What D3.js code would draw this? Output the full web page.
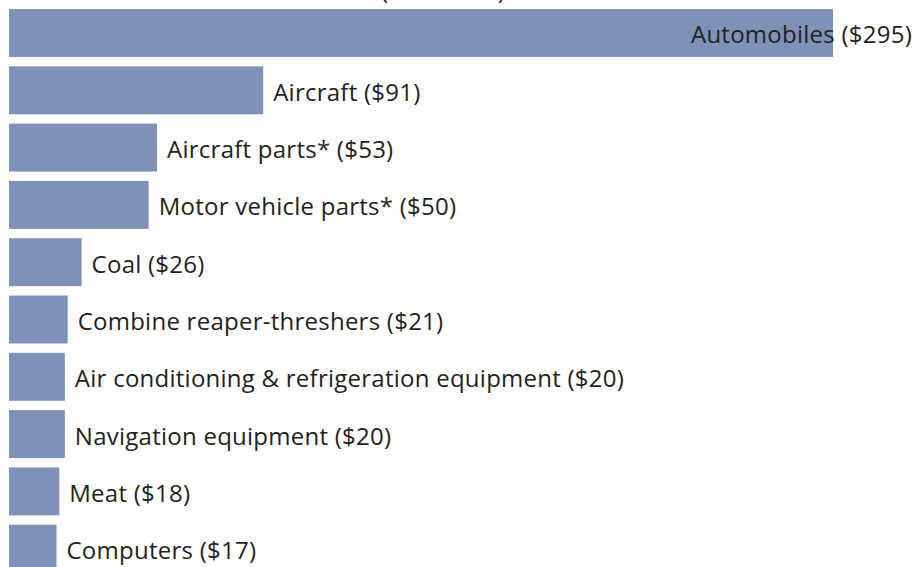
<!DOCTYPE html>
<html>
<head>
<meta charset="utf-8">
<script src="https://cdn.jsdelivr.net/npm/d3@7"></script>
<style>
  body { margin: 0; background: #fff; }
  svg { display: block; }
  text { font-family: "Open Sans", "Noto Sans", sans-serif; fill: #231f20; letter-spacing: 0.25px; }
</style>
</head>
<body>
<svg width="914" height="567"></svg>
<script>
var svg = d3.select("svg"),
    width = +svg.attr("width"),
    height = +svg.attr("height");

// data, billions of dollars
var categories = ["Automobiles", "Aircraft", "Aircraft parts*", "Motor vehicle parts*", "Coal",
    "Combine reaper-threshers", "Air conditioning & refrigeration equipment",
    "Navigation equipment", "Meat", "Computers"];
var values = [295, 91, 53, 50, 26, 21, 20, 20, 18, 17];
var title = "(in billions)";

var barColor = "#7e92b9";
var fontSize = 24;

var x = d3.scaleLinear()
    .domain([0, 295])
    .range([9, 833]);

var y = d3.scaleBand()
    .domain(categories)
    .range([9, 572.7])
    .paddingInner(0.163)
    .paddingOuter(0);

var rows = categories.map(function (c, i) { return { name: c, value: values[i] }; });

// title, mostly above the visible area like in the original crop
svg.append("text")
    .attr("x", 443)
    .attr("y", -1)
    .attr("text-anchor", "middle")
    .style("font-size", fontSize + "px")
    .text(title);

var bar = svg.append("g")
    .selectAll("g")
    .data(rows)
    .enter().append("g");

bar.append("rect")
    .attr("x", x(0))
    .attr("y", function (d) { return y(d.name); })
    .attr("width", function (d) { return x(d.value) - x(0); })
    .attr("height", y.bandwidth())
    .attr("fill", barColor);

bar.append("text")
    .attr("x", function (d, i) { return i == 0 ? width - 2 : x(d.value) + 10; })
    .attr("y", function (d) { return y(d.name) + y.bandwidth() / 2 + 2; })
    .attr("dy", "0.35em")
    .attr("text-anchor", function (d, i) { return i == 0 ? "end" : "start"; })
    .style("font-size", fontSize + "px")
    .text(function (d) { return d.name + " ($" + d.value + ")"; });
</script>
</body>
</html>
